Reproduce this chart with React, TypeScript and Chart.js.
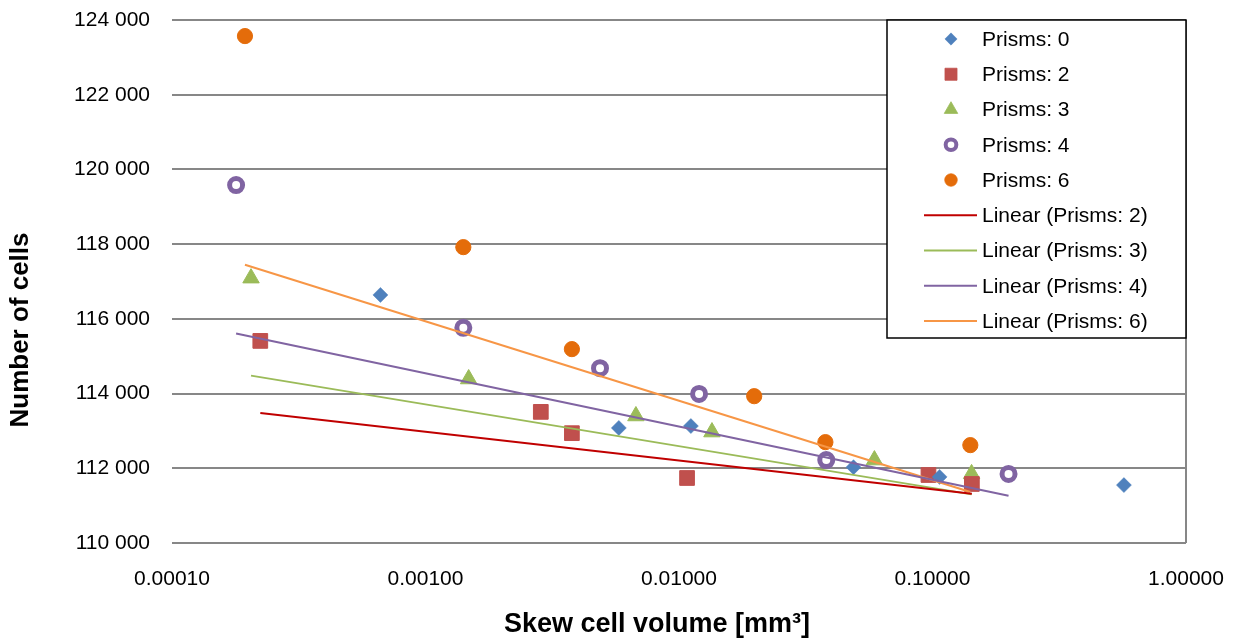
import React, { useEffect, useRef } from 'react';
import { Chart, registerables } from 'chart.js';
import { drawPoint } from 'chart.js/helpers';

Chart.register(...registerables);

const FONT = "'Liberation Sans', Arial, Helvetica, sans-serif";

const xTickValues = [0.0001, 0.001, 0.01, 0.1, 1];
const xTickLabels = ['0.00010', '0.00100', '0.01000', '0.10000', '1.00000'];
const yTickValues = [110000, 112000, 114000, 116000, 118000, 120000, 122000, 124000];
const yTickLabels = ['110 000', '112 000', '114 000', '116 000', '118 000', '120 000', '122 000', '124 000'];

const xTitle = 'Skew cell volume [mm³]';
const yTitle = 'Number of cells';

const seriesNames = ['Prisms: 0', 'Prisms: 2', 'Prisms: 3', 'Prisms: 4', 'Prisms: 6'];

const prisms0X = [0.000664, 0.00579, 0.01114, 0.0488, 0.1066, 0.569];
const prisms0Y = [116640, 113080, 113130, 112030, 111770, 111550];

const prisms2X = [0.000223, 0.00285, 0.00378, 0.01076, 0.0964, 0.143];
const prisms2Y = [115410, 113510, 112940, 111740, 111820, 111580];

const prisms3X = [0.000205, 0.00148, 0.00676, 0.01349, 0.059, 0.1426];
const prisms3Y = [117090, 114390, 113400, 112970, 112220, 111850];

const prisms4X = [0.000179, 0.00141, 0.00488, 0.012, 0.0381, 0.1995];
const prisms4Y = [119580, 115760, 114680, 113990, 112220, 111850];

const prisms6X = [0.000194, 0.00141, 0.00378, 0.0198, 0.0378, 0.141];
const prisms6Y = [123570, 117920, 115190, 113930, 112700, 112620];

const trendSeries = [1, 2, 3, 4]; // indexes into series with a linear trendline

function toPoints(xs: number[], ys: number[]) {
  return xs.map((x, i) => ({ x, y: ys[i] }));
}

function linearFit(xs: number[], ys: number[]) {
  const n = xs.length;
  const mx = xs.reduce((a, b) => a + b, 0) / n;
  const my = ys.reduce((a, b) => a + b, 0) / n;
  let sxy = 0;
  let sxx = 0;
  for (let i = 0; i < n; i++) {
    sxy += (xs[i] - mx) * (ys[i] - my);
    sxx += (xs[i] - mx) * (xs[i] - mx);
  }
  const b = sxy / sxx;
  const a = my - b * mx;
  const x0 = Math.min(...xs);
  const x1 = Math.max(...xs);
  return [
    { x: x0, y: a + b * x0 },
    { x: x1, y: a + b * x1 },
  ];
}

const allX = [prisms0X, prisms2X, prisms3X, prisms4X, prisms6X];
const allY = [prisms0Y, prisms2Y, prisms3Y, prisms4Y, prisms6Y];

const markerStyles = [
  { pointStyle: 'rectRot', radius: 7.5, fill: '#4F81BD', stroke: '#4F81BD', borderWidth: 0.5 },
  { pointStyle: 'rect', radius: 10.4, fill: '#C0504D', stroke: '#C0504D', borderWidth: 1 },
  { pointStyle: 'triangle', radius: 9.5, fill: '#9BBB59', stroke: '#9BBB59', borderWidth: 1 },
  { pointStyle: 'circle', radius: 6.5, fill: '#FFFFFF', stroke: '#8064A2', borderWidth: 5 },
  { pointStyle: 'circle', radius: 7.6, fill: '#E46C0A', stroke: '#E46C0A', borderWidth: 1 },
];

const trendColors = ['#C00000', '#9BBB59', '#8064A2', '#F79646'];

const GRID = '#878787';

const legendPlugin = {
  id: 'boxLegend',
  afterDraw(chart: any) {
    const { ctx, chartArea } = chart;
    const w = 299;
    const h = 318;
    const x0 = chartArea.right - w;
    const y0 = chartArea.top;
    ctx.save();
    ctx.fillStyle = '#FFFFFF';
    ctx.fillRect(x0, y0, w, h);
    ctx.strokeStyle = '#000000';
    ctx.lineWidth = 1.5;
    ctx.strokeRect(x0, y0, w, h);
    ctx.font = `21px ${FONT}`;
    ctx.textBaseline = 'middle';
    ctx.textAlign = 'left';
    chart.data.datasets.forEach((ds: any, i: number) => {
      const cy = y0 + 19 + i * 35.25;
      if (ds.showLine) {
        ctx.strokeStyle = ds.borderColor;
        ctx.lineWidth = 2;
        ctx.beginPath();
        ctx.moveTo(x0 + 37, cy);
        ctx.lineTo(x0 + 90, cy);
        ctx.stroke();
      } else {
        const m = markerStyles[i];
        ctx.fillStyle = m.fill;
        ctx.strokeStyle = m.stroke;
        ctx.lineWidth = m.borderWidth * 0.8;
        drawPoint(
          ctx,
          { pointStyle: m.pointStyle as any, rotation: 0, radius: m.radius * 0.82, borderWidth: m.borderWidth * 0.8 },
          x0 + 64,
          cy
        );
      }
      ctx.fillStyle = '#000000';
      ctx.fillText(ds.label, x0 + 95, cy + 1);
    });
    ctx.restore();
  },
};

const axisTitlePlugin = {
  id: 'axisTitles',
  afterDraw(chart: any) {
    const { ctx, chartArea } = chart;
    ctx.save();
    ctx.fillStyle = '#000000';
    ctx.textAlign = 'center';
    ctx.textBaseline = 'middle';
    ctx.font = `bold 27px ${FONT}`;
    ctx.fillText(xTitle, chartArea.left + 485, chartArea.bottom + 82);
    ctx.font = `bold 26px ${FONT}`;
    ctx.translate(21, chartArea.top + 310);
    ctx.rotate(-Math.PI / 2);
    ctx.fillText(yTitle, 0, 0);
    ctx.restore();
  },
};

export default function App() {
  const canvasRef = useRef<HTMLCanvasElement | null>(null);

  useEffect(() => {
    document.body.style.margin = '0';
    const canvas = canvasRef.current;
    if (!canvas) return;

    const scatterSets = seriesNames.map((name, i) => {
      const m = markerStyles[i];
      return {
        label: name,
        data: toPoints(allX[i], allY[i]),
        showLine: false,
        pointStyle: m.pointStyle,
        pointRadius: m.radius,
        pointBackgroundColor: m.fill,
        pointBorderColor: m.stroke,
        pointBorderWidth: m.borderWidth,
        backgroundColor: m.fill,
        borderColor: m.stroke,
        order: 1,
      };
    });

    const trendSets = trendSeries.map((si, k) => ({
      label: `Linear (${seriesNames[si]})`,
      data: linearFit(allX[si], allY[si]),
      showLine: true,
      pointRadius: 0,
      borderColor: trendColors[k],
      backgroundColor: trendColors[k],
      borderWidth: 2,
      order: 0,
    }));

    const chart = new Chart(canvas, {
      type: 'scatter',
      data: { datasets: [...scatterSets, ...trendSets] as any },
      options: {
        responsive: false,
        animation: false,
        devicePixelRatio: 1,
        layout: { padding: { left: 0, top: 20, right: 47, bottom: 0 } },
        plugins: {
          legend: { display: false },
          tooltip: { enabled: false },
          title: { display: false },
        },
        scales: {
          x: {
            type: 'logarithmic',
            min: 0.0001,
            max: 1,
            afterBuildTicks: (scale: any) => {
              scale.ticks = xTickValues.map((v) => ({ value: v }));
            },
            afterFit: (scale: any) => {
              scale.height = 101;
              scale.paddingLeft = 0;
              scale.paddingRight = 0;
            },
            ticks: {
              autoSkip: false,
              maxRotation: 0,
              padding: 24,
              color: '#000000',
              font: { family: FONT, size: 21 },
              callback: (_v: any, i: number) => xTickLabels[i],
            },
            grid: {
              drawTicks: false,
              lineWidth: 2,
              color: (c: any) => (c.index === xTickValues.length - 1 ? GRID : 'rgba(0,0,0,0)'),
            },
            border: { display: false },
          },
          y: {
            type: 'linear',
            min: 110000,
            max: 124000,
            afterBuildTicks: (scale: any) => {
              scale.ticks = yTickValues.map((v) => ({ value: v }));
            },
            afterFit: (scale: any) => {
              scale.width = 172;
              scale.paddingTop = 0;
              scale.paddingBottom = 0;
            },
            ticks: {
              padding: 22,
              color: '#000000',
              font: { family: FONT, size: 21 },
              callback: (_v: any, i: number) => yTickLabels[i],
            },
            grid: { drawTicks: false, lineWidth: 2, color: GRID },
            border: { display: false },
          },
        },
      },
      plugins: [legendPlugin, axisTitlePlugin],
    });

    return () => {
      chart.destroy();
    };
  }, []);

  return (
    <div style={{ width: 1233, height: 644, background: '#FFFFFF' }}>
      <canvas ref={canvasRef} width={1233} height={644} style={{ display: 'block' }} />
    </div>
  );
}
